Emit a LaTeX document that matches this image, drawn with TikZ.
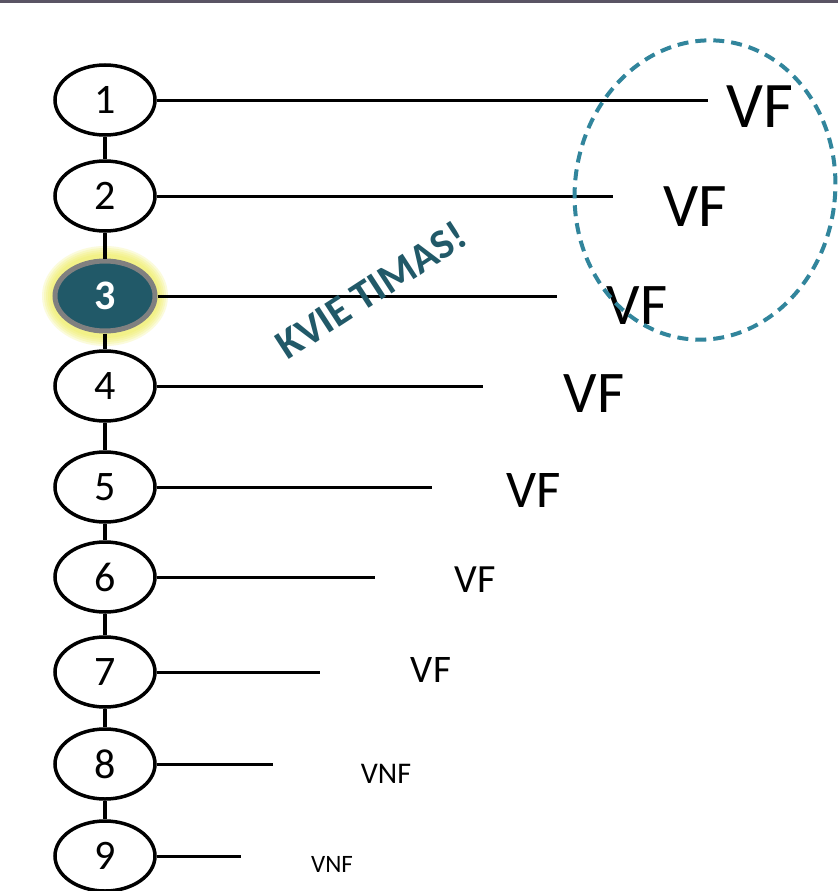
\documentclass[tikz,border=0pt]{standalone}
\usepackage{fontspec}
\setmainfont{Carlito}
\usetikzlibrary{shapes.geometric}
\usetikzlibrary{calc}
\usetikzlibrary{math}
\definecolor{tealfonce}{RGB}{33,89,104}
\definecolor{tealtiret}{RGB}{49,133,156}
\definecolor{jauneglow}{RGB}{238,236,80}
\definecolor{barre}{RGB}{90,84,100}

\begin{document}
\begin{tikzpicture}[x=1pt,y=-1pt,
    etape/.style={ellipse,draw=black,line width=3.5pt,fill=white,
        minimum width=100pt,minimum height=70pt,inner sep=0pt,
        font=\fontsize{42}{42}\selectfont},
    choisi/.style={etape,draw=gray,line width=5pt,fill=tealfonce,
        text=white,font=\bfseries\fontsize{42}{42}\selectfont},
    trait/.style={line width=3pt}]
    \tikzmath{\xn = 105;}
    \useasboundingbox (0,0) rectangle (838,891);
    \fill[white] (0,0) rectangle (838,891);
    \fill[barre] (0,0) rectangle (838,3);
    % halo jaune autour de l'etape 3
    \foreach \r in {11,9,7,5,3} {
        \fill[jauneglow,opacity=0.2] (\xn,296) ellipse [x radius=52+\r, y radius=39+\r];
    }
    % les etapes
    \foreach \i/\y in {1/100,2/196,4/386,5/487,6/577,7/672,8/764,9/856} {
        \node[etape] (n\i) at (\xn,\y) {\i};
    }
    \node[choisi] (n3) at (\xn,296) {3};
    \foreach \u/\v in {1/2,2/3,3/4,4/5,5/6,6/7,7/8,8/9} {
        \draw[line width=3.5pt] (n\u.south) -- (n\v.north);
    }
    % traits et reponses
    \foreach \i/\xe/\xl/\yl/\t/\s in {1/708/760/107/VF/65,2/613/695/207/VF/62,
        3/557/637/306/VF/59,4/483/594/394/VF/59,5/432/534/490/VF/53,
        6/375/475/580/VF/40,7/320/431/670/VF/39,8/273/386/774/VNF/30,
        9/241/332/864/VNF/25} {
        \coordinate (e\i) at (n\i.east -| \xe,0);
        \draw[trait] (n\i.east) -- (e\i);
        \node[font=\fontsize{\s}{\s}\selectfont,inner sep=0pt] (v\i) at (\xl,\yl) {\t};
    }
    \node[text=tealfonce,font=\bfseries\fontsize{42}{42}\selectfont,rotate=33,inner sep=0pt] (kvie) at (371,290) {KVIE TIMAS!};
    \draw[tealtiret,line width=4pt,dash pattern=on 11pt off 7pt,
        rotate around={-8:(705,190)}] (705,190) ellipse [x radius=130, y radius=150];
\end{tikzpicture}
\end{document}
